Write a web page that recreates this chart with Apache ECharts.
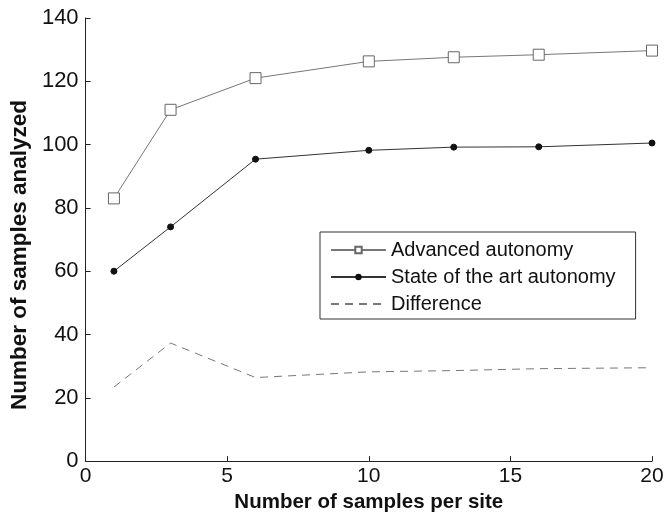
<!DOCTYPE html>
<html>
<head>
<meta charset="utf-8">
<script src="https://cdn.jsdelivr.net/npm/echarts@6/dist/echarts.min.js"></script>
<style>
html,body{margin:0;padding:0;background:#fff;}
#c{width:667px;height:518px;}
</style>
</head>
<body>
<div id="c"></div>
<script>
const samplesPerSite = [1, 3, 6, 10, 13, 16, 20];
const advancedAutonomy = [83, 111, 121, 126.3, 127.6, 128.4, 129.7];
const stateOfTheArt = [60, 74, 95.4, 98.2, 99.2, 99.3, 100.5];
const difference = [23.4, 37.3, 26.4, 28.2, 28.6, 29.2, 29.5];
const seriesNames = ['Advanced autonomy', 'State of the art autonomy', 'Difference'];
const xTitle = 'Number of samples per site';
const yTitle = 'Number of samples analyzed';

const pair = (xs, ys) => xs.map((x, i) => [x, ys[i]]);
const font = 'Liberation Sans, Arial, sans-serif';
const chart = echarts.init(document.getElementById('c'), null, {renderer: 'canvas'});
chart.setOption({
  backgroundColor: '#fff',
  animation: false,
  grid: {left: 85, right: 15, top: 18, bottom: 52, containLabel: false},
  xAxis: {
    type: 'value', min: 0, max: 20, interval: 5,
    name: xTitle, nameLocation: 'middle', nameGap: 26,
    nameTextStyle: {fontFamily: font, fontWeight: 'bold', fontSize: 20.5, color: '#111'},
    axisLine: {show: true, lineStyle: {color: '#222', width: 1}},
    axisTick: {show: true, inside: true, length: 5, lineStyle: {color: '#222'}},
    axisLabel: {fontFamily: font, fontSize: 21, color: '#111', margin: 5},
    splitLine: {show: false}
  },
  yAxis: {
    type: 'value', min: 0, max: 140, interval: 20,
    name: yTitle, nameLocation: 'middle', nameGap: 52, nameRotate: 90,
    nameTextStyle: {fontFamily: font, fontWeight: 'bold', fontSize: 22.5, color: '#111', padding: [0, 31, 0, 0]},
    axisLine: {show: true, lineStyle: {color: '#222', width: 1}},
    axisTick: {show: true, inside: true, length: 5, lineStyle: {color: '#222'}},
    axisLabel: {fontFamily: font, fontSize: 22, color: '#111', margin: 7},
    splitLine: {show: false}
  },
  legend: {
    orient: 'vertical', left: 320, top: 232,
    padding: [8, 20, 5, 10], itemGap: 7, itemWidth: 55, itemHeight: 8,
    borderColor: '#333', borderWidth: 1, backgroundColor: '#fff',
    textStyle: {fontFamily: font, fontSize: 20, color: '#111'},
    data: [
      {name: seriesNames[0]},
      {name: seriesNames[1]},
      {name: seriesNames[2], itemStyle: {opacity: 0}}
    ]
  },
  series: [
    {
      name: seriesNames[0], type: 'line', data: pair(samplesPerSite, advancedAutonomy),
      symbol: 'rect', symbolSize: 11,
      itemStyle: {color: '#fff', borderColor: '#666', borderWidth: 1},
      lineStyle: {color: '#777', width: 1}
    },
    {
      name: seriesNames[1], type: 'line', data: pair(samplesPerSite, stateOfTheArt),
      symbol: 'circle', symbolSize: 6,
      itemStyle: {color: '#111', borderColor: '#111'},
      lineStyle: {color: '#333', width: 1}
    },
    {
      name: seriesNames[2], type: 'line', data: pair(samplesPerSite, difference),
      symbol: 'none',
      itemStyle: {color: '#777'},
      lineStyle: {color: '#777', width: 1, type: [8, 6]}
    }
  ]
});
</script>
</body>
</html>
